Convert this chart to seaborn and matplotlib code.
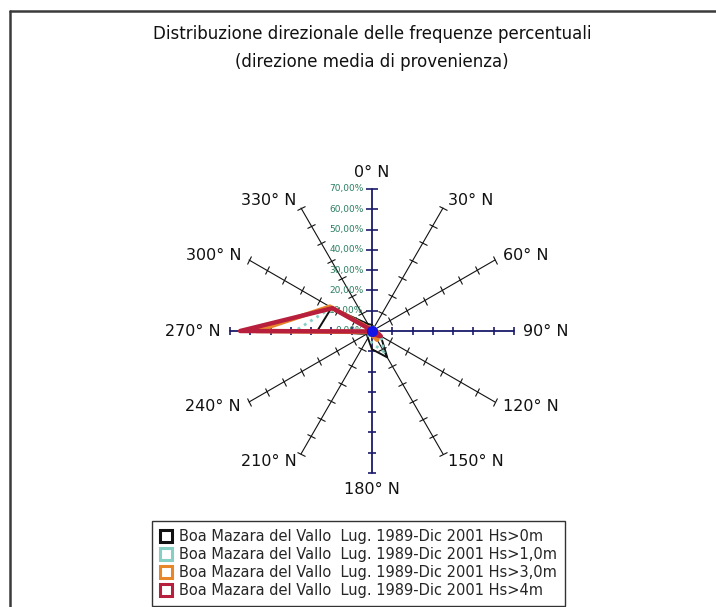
import numpy as np
import matplotlib
matplotlib.use("Agg")
import matplotlib.pyplot as plt
from matplotlib.markers import MarkerStyle
from matplotlib.transforms import Affine2D
from matplotlib.lines import Line2D
import seaborn as sns

sns.set_style("white")
plt.rcParams["font.family"] = ["DejaVu Sans"]

# Directions of provenance (degrees from North, clockwise)
directions = [0, 30, 60, 90, 120, 150, 180, 210, 240, 270, 300, 330]
direction_labels = [f"{d}° N" for d in directions]

# Percentage frequencies per direction for each wave-height threshold
hs_0m = [3, 2, 2, 3, 5, 15, 9, 4, 3, 27, 23, 4]
hs_1m = [2, 2, 2, 3, 5, 12, 6, 3, 2, 38, 23, 2]
hs_3m = [1, 1, 1, 2, 4, 5, 2, 1, 1, 57, 24, 1]
hs_4m = [0.5, 0.5, 1, 1.5, 5, 2, 0.5, 0.5, 0.5, 65, 22.5, 0.5]

series_names = [
    "Boa Mazara del Vallo  Lug. 1989-Dic 2001 Hs>0m",
    "Boa Mazara del Vallo  Lug. 1989-Dic 2001 Hs>1,0m",
    "Boa Mazara del Vallo  Lug. 1989-Dic 2001 Hs>3,0m",
    "Boa Mazara del Vallo  Lug. 1989-Dic 2001 Hs>4m",
]
radial_ticks = [0, 10, 20, 30, 40, 50, 60, 70]
radial_tick_labels = ["0,00%", "10,00%", "20,00%", "30,00%", "40,00%",
                      "50,00%", "60,00%", "70,00%"]

W, H = 716, 607
fig = plt.figure(figsize=(W / 100, H / 100), dpi=100)
fig.patch.set_facecolor("white")

# Chart frame (top and left edges visible)
fig.add_artist(Line2D([10 / W, 10 / W], [0, 1 - 11 / H], color="#3a3a3a",
                      lw=1.8, transform=fig.transFigure))
fig.add_artist(Line2D([10 / W, 1], [1 - 11 / H, 1 - 11 / H], color="#3a3a3a",
                      lw=1.8, transform=fig.transFigure))

# Title
fig.text(372 / W, 1 - 34 / H, "Distribuzione direzionale delle frequenze percentuali",
         ha="center", va="center", fontsize=12, color="#111111")
fig.text(372 / W, 1 - 62 / H, "(direzione media di provenienza)",
         ha="center", va="center", fontsize=12, color="#111111")

# Radar area
cx, cy, R = 372, 331, 142
ax = fig.add_axes([(cx - R) / W, (H - cy - R) / H, 2 * R / W, 2 * R / H],
                  projection="polar")
ax.set_theta_zero_location("N")
ax.set_theta_direction(-1)
ax.set_ylim(0, 70)
ax.grid(False)
ax.set_xticks([])
ax.set_yticks([])
ax.spines["polar"].set_visible(False)
ax.patch.set_alpha(0)

rmax = radial_ticks[-1]
for d in directions:
    th = np.deg2rad(d)
    cardinal = d % 90 == 0
    col = "#1b1b6b" if cardinal else "#111111"
    ax.plot([th, th], [0, rmax], color=col, lw=1.3 if cardinal else 0.8,
            zorder=2, clip_on=False)
    tick_marker = MarkerStyle("_", transform=Affine2D().rotate_deg(-d))
    ax.plot([th] * (len(radial_ticks) - 1), radial_ticks[1:], ls="none",
            marker=tick_marker, ms=8 if d == 0 else 6, mew=1.2 if cardinal else 0.8,
            color=col, zorder=2, clip_on=False)

# Direction labels outside the spokes
for d, lab in zip(directions, direction_labels):
    th = np.deg2rad(d)
    s, c = np.sin(th), np.cos(th)
    ha = "left" if s > 0.1 else ("right" if s < -0.1 else "center")
    va = "bottom" if c > 0.95 else ("top" if c < -0.95 else "center")
    ax.text(th, 74.5, lab, ha=ha, va=va, fontsize=11.5, color="#111111",
            clip_on=False)

# Percentage labels along the North axis
for r, lab in zip(radial_ticks, radial_tick_labels):
    ax.annotate(lab, xy=(0, r), xytext=(-6, 0), textcoords="offset points",
                ha="right", va="center", fontsize=6.5, color="#2a7f5f",
                annotation_clip=False)

# Data series (closed polygons)
theta_closed = np.deg2rad(directions + [directions[0]])
series = [hs_0m, hs_1m, hs_3m, hs_4m]
colors = ["#111111", "#86cfc4", "#e8862a", "#b81f3c"]
widths = [1.4, 2.0, 3.2, 3.2]
styles = ["-", ":", "-", "-"]
for vals, col, lw, ls in zip(series, colors, widths, styles):
    sns.lineplot(x=theta_closed, y=list(vals) + [vals[0]], sort=False,
                 estimator=None, ax=ax, color=col, lw=lw, linestyle=ls,
                 zorder=3)
ax.set_xlabel("")
ax.set_ylabel("")
ax.set_ylim(0, 70)

# Centre marker
ax.plot([0], [0], marker="o", ms=7, color="#1414e6", zorder=4, clip_on=False)

# Legend
handles = [Line2D([], [], ls="none", marker="s", ms=8, mfc="white",
                  mec=col, mew=2.2) for col in colors]
leg = fig.legend(handles, series_names, loc="upper left",
                 bbox_to_anchor=(152 / W, 1 - 521 / H), frameon=True,
                 fancybox=False, edgecolor="black", borderaxespad=0,
                 fontsize=10.5, handlelength=0.8, handletextpad=0.5,
                 labelspacing=0.2, borderpad=0.55)
leg.get_frame().set_linewidth(1.0)

fig.savefig("out.png", dpi=100, facecolor="white")
